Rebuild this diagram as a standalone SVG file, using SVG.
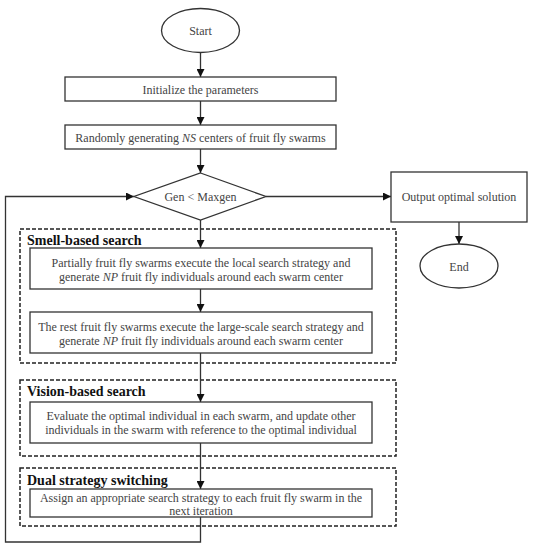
<svg xmlns="http://www.w3.org/2000/svg" width="533" height="550" viewBox="0 0 533 550">
<style>
.n{fill:#fff;stroke:#333;stroke-width:1.3}
.g{fill:none;stroke:#222;stroke-width:1.5;stroke-dasharray:4,2}
.t{font-family:"Liberation Serif",serif;font-size:12px;fill:#444;text-anchor:middle}
.h{font-family:"Liberation Serif",serif;font-size:14px;font-weight:bold;fill:#111}
.c{fill:none;stroke:#333;stroke-width:1.3}
</style>
<defs>
<marker id="a" markerWidth="8" markerHeight="8" refX="8" refY="4" orient="auto" markerUnits="userSpaceOnUse">
<path d="M0,0 L8,4 L0,8 Z" fill="#111"/>
</marker>
</defs>
<rect width="533" height="550" fill="#fff"/>
<g id="group-smell">
<rect class="g" x="20" y="229" width="376" height="134"/>
<text class="h" x="27" y="245">Smell-based search</text>
</g>
<g id="group-vision">
<rect class="g" x="20" y="380" width="376" height="76"/>
<text class="h" x="27" y="396">Vision-based search</text>
</g>
<g id="group-dual">
<rect class="g" x="20" y="468" width="376" height="58"/>
<text class="h" x="27" y="485">Dual strategy switching</text>
</g>
<g id="connectors">
<line class="c" x1="200.5" y1="53" x2="200.5" y2="77" marker-end="url(#a)"/>
<line class="c" x1="200.5" y1="101" x2="200.5" y2="125" marker-end="url(#a)"/>
<line class="c" x1="200.5" y1="149" x2="200.5" y2="173" marker-end="url(#a)"/>
<line class="c" x1="266" y1="196.5" x2="391" y2="196.5" marker-end="url(#a)"/>
<line class="c" x1="459" y1="222" x2="459" y2="244" marker-end="url(#a)"/>
<line class="c" x1="200.5" y1="220" x2="200.5" y2="248" marker-end="url(#a)"/>
<line class="c" x1="200.5" y1="289" x2="200.5" y2="312" marker-end="url(#a)"/>
<line class="c" x1="200.5" y1="353" x2="200.5" y2="402" marker-end="url(#a)"/>
<line class="c" x1="200.5" y1="443" x2="200.5" y2="489" marker-end="url(#a)"/>
<polyline class="c" points="200.5,517 200.5,542 5.5,542 5.5,196.5 134,196.5" marker-end="url(#a)"/>
</g>
<g id="start">
<ellipse class="n" cx="200.5" cy="30.5" rx="39" ry="22"/>
<text class="t" x="200.5" y="35">Start</text>
</g>
<g id="init">
<rect class="n" x="65" y="77" width="271" height="24"/>
<text class="t" x="200.5" y="93.5">Initialize the parameters</text>
</g>
<g id="random">
<rect class="n" x="65" y="125" width="271" height="24"/>
<text class="t" x="200.5" y="141.5">Randomly generating <tspan font-style="italic">NS</tspan> centers of fruit fly swarms</text>
</g>
<g id="decision">
<polygon class="n" points="200.5,173 266,196.5 200.5,220 134,196.5"/>
<text class="t" x="200.5" y="201">Gen &lt; Maxgen</text>
</g>
<g id="output">
<rect class="n" x="391" y="172" width="136" height="50"/>
<text class="t" x="459" y="201">Output optimal solution</text>
</g>
<g id="end">
<ellipse class="n" cx="459" cy="266" rx="39" ry="22"/>
<text class="t" x="459" y="270.5">End</text>
</g>
<g id="local">
<rect class="n" x="30" y="248" width="342" height="41"/>
<text class="t" x="201" y="267">Partially fruit fly swarms execute the local search strategy and</text>
<text class="t" x="201" y="280.5">generate <tspan font-style="italic">NP</tspan> fruit fly individuals around each swarm center</text>
</g>
<g id="large">
<rect class="n" x="30" y="312" width="342" height="41"/>
<text class="t" x="201" y="331">The rest fruit fly swarms execute the large-scale search strategy and</text>
<text class="t" x="201" y="344.5">generate <tspan font-style="italic">NP</tspan> fruit fly individuals around each swarm center</text>
</g>
<g id="evaluate">
<rect class="n" x="30" y="402" width="342" height="41"/>
<text class="t" x="201" y="420">Evaluate the optimal individual in each swarm, and update other</text>
<text class="t" x="201" y="433.5">individuals in the swarm with reference to the optimal individual</text>
</g>
<g id="assign">
<rect class="n" x="30" y="489" width="342" height="28"/>
<text class="t" x="201" y="501.5">Assign an appropriate search strategy to each fruit fly swarm in the</text>
<text class="t" x="201" y="514.5">next iteration</text>
</g>
</svg>
